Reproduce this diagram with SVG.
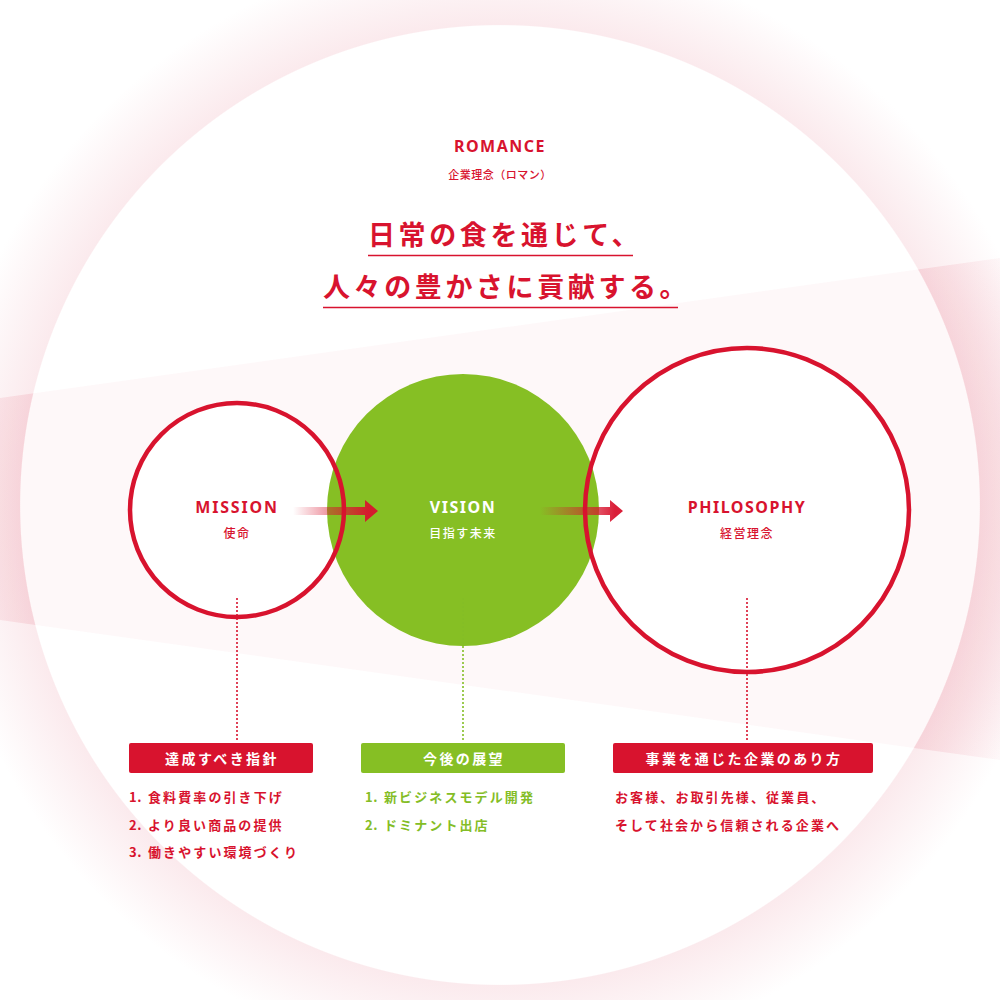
<svg xmlns="http://www.w3.org/2000/svg" width="1000" height="1000" viewBox="0 0 1000 1000">
<defs>
<radialGradient id="ring" gradientUnits="userSpaceOnUse" cx="500" cy="505" r="560">
<stop offset="0" stop-color="#ffffff"/>
<stop offset="0.856" stop-color="#ffffff"/>
<stop offset="0.858" stop-color="#fbeaed"/>
<stop offset="1" stop-color="#ffffff"/>
</radialGradient>
<radialGradient id="ring2" gradientUnits="userSpaceOnUse" cx="500" cy="505" r="560">
<stop offset="0" stop-color="#e8889a" stop-opacity="0"/>
<stop offset="0.856" stop-color="#e8889a" stop-opacity="0"/>
<stop offset="0.858" stop-color="#e8889a" stop-opacity="0.16"/>
<stop offset="1" stop-color="#e8889a" stop-opacity="0"/>
</radialGradient>
<linearGradient id="arr1" gradientUnits="userSpaceOnUse" x1="293" y1="0" x2="368" y2="0">
<stop offset="0" stop-color="#d8132e" stop-opacity="0"/>
<stop offset="1" stop-color="#d8132e" stop-opacity="0.95"/>
</linearGradient>
<linearGradient id="arr2" gradientUnits="userSpaceOnUse" x1="540" y1="0" x2="615" y2="0">
<stop offset="0" stop-color="#d8132e" stop-opacity="0"/>
<stop offset="1" stop-color="#d8132e" stop-opacity="0.95"/>
</linearGradient>
<style>
.red{fill:#d8132e}
.grn{fill:#84bd26}
.wht{fill:#ffffff}
.lat{font-family:"Noto Sans","Liberation Sans",sans-serif;font-weight:700}
.jp{font-family:"Noto Sans CJK JP","Noto Sans",sans-serif}
.ring{fill:none;stroke:#d8132e;stroke-width:4.5}
.dotr{stroke:#d8132e;stroke-width:1.6;stroke-dasharray:2 2;fill:none}
.dotg{stroke:#84bd26;stroke-width:1.6;stroke-dasharray:2 2;fill:none}
.ul{stroke:#d8132e;stroke-width:1.6}
.box-label{font-size:14px;font-weight:700;letter-spacing:2.4px}
.li{font-size:13px;font-weight:700;letter-spacing:2.1px}
</style>
</defs>

<g id="background">
<rect x="0" y="0" width="1000" height="1000" fill="url(#ring)"/>
<polygon points="0,398 1000,258 1000,760 0,620" fill="url(#ring2)"/>
<polygon points="0,398 1000,258 1000,760 0,620" fill="#e0405a" fill-opacity="0.035"/>
<circle cx="237" cy="510" r="107" fill="#ffffff"/>
<circle cx="747" cy="510" r="162" fill="#ffffff"/>
</g>

<g id="title">
<text x="500" y="152" text-anchor="middle" class="lat red" font-size="16" letter-spacing="1.5">ROMANCE</text>
<text x="500" y="179" text-anchor="middle" class="jp red" font-size="11" font-weight="500" letter-spacing="0.5">企業理念（ロマン）</text>
<text x="368" y="245" class="jp red" font-size="27" font-weight="700" letter-spacing="3.6">日常の食を通じて、</text>
<line x1="368" y1="255.5" x2="633" y2="255.5" class="ul"/>
<text x="323" y="297" class="jp red" font-size="27" font-weight="700" letter-spacing="3.6">人々の豊かさに貢献する。</text>
<line x1="323" y1="307.5" x2="678" y2="307.5" class="ul"/>
</g>

<g id="vision">
<circle cx="463" cy="510" r="136" fill="#86bf24"/>
<text x="463" y="513" text-anchor="middle" class="lat wht" font-size="16" letter-spacing="1.5">VISION</text>
<text x="463" y="538" text-anchor="middle" class="jp wht" font-size="12" font-weight="500" letter-spacing="1.5">目指す未来</text>
</g>

<g id="mission">
<circle cx="237" cy="510" r="107" class="ring"/>
<text x="237" y="513" text-anchor="middle" class="lat red" font-size="16" letter-spacing="1.8">MISSION</text>
<text x="237" y="538" text-anchor="middle" class="jp red" font-size="12" font-weight="500" letter-spacing="1.5">使命</text>
</g>

<g id="philosophy">
<circle cx="747" cy="510" r="162" class="ring"/>
<text x="747" y="513" text-anchor="middle" class="lat red" font-size="16" letter-spacing="1.5">PHILOSOPHY</text>
<text x="747" y="538" text-anchor="middle" class="jp red" font-size="12" font-weight="500" letter-spacing="1.5">経営理念</text>
</g>

<g id="connectors">
<path d="M293,507 H365 V500 L378,511 L365,522 V515 H293 Z" fill="url(#arr1)"/>
<path d="M540,507 H610 V500 L623,511 L610,522 V515 H540 Z" fill="url(#arr2)"/>
<line x1="237" y1="598" x2="237" y2="741" class="dotr"/>
<line x1="463" y1="598" x2="463" y2="741" class="dotg"/>
<line x1="747" y1="598" x2="747" y2="741" class="dotr"/>
</g>

<g id="mission-detail">
<rect x="129" y="743" width="184" height="30" rx="2" fill="#d8132e"/>
<text x="222" y="764" text-anchor="middle" class="jp wht box-label">達成すべき指針</text>
<text x="129" y="802" class="jp red li"><tspan letter-spacing="0.5">1. </tspan><tspan x="148">食料費率の引き下げ</tspan></text>
<text x="129" y="830" class="jp red li"><tspan letter-spacing="0.5">2. </tspan><tspan x="148">より良い商品の提供</tspan></text>
<text x="129" y="857" class="jp red li"><tspan letter-spacing="0.5">3. </tspan><tspan x="148">働きやすい環境づくり</tspan></text>
</g>

<g id="vision-detail">
<rect x="361" y="743" width="204" height="30" rx="2" fill="#86bf24"/>
<text x="464" y="764" text-anchor="middle" class="jp wht box-label">今後の展望</text>
<text x="365" y="802" class="jp grn li"><tspan letter-spacing="0.5">1. </tspan><tspan x="384">新ビジネスモデル開発</tspan></text>
<text x="365" y="830" class="jp grn li"><tspan letter-spacing="0.5">2. </tspan><tspan x="384">ドミナント出店</tspan></text>
</g>

<g id="philosophy-detail">
<rect x="613" y="743" width="260" height="30" rx="2" fill="#d8132e"/>
<text x="744" y="764" text-anchor="middle" class="jp wht box-label">事業を通じた企業のあり方</text>
<text x="615" y="802" class="jp red li">お客様、お取引先様、従業員、</text>
<text x="615" y="830" class="jp red li">そして社会から信頼される企業へ</text>
</g>
</svg>
